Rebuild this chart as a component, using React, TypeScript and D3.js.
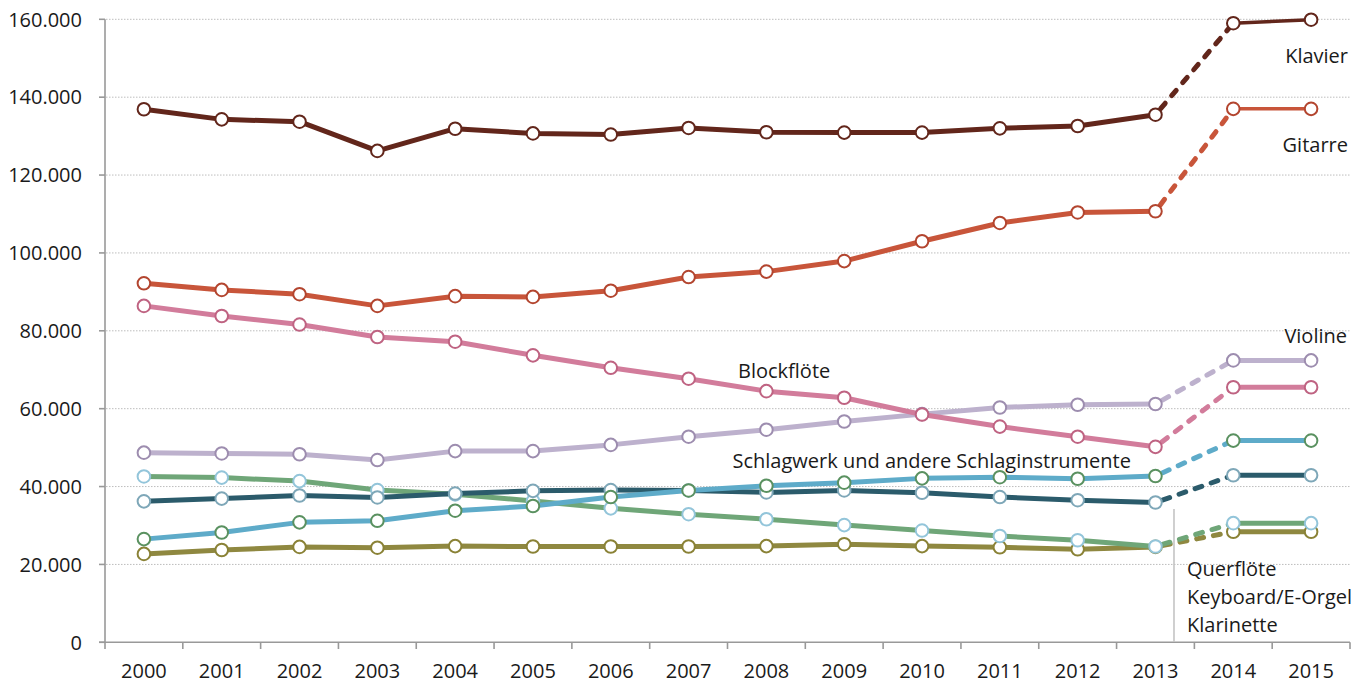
import React from "react";
import * as d3 from "d3";

const years = ["2000","2001","2002","2003","2004","2005","2006","2007","2008","2009","2010","2011","2012","2013","2014","2015"];
const yTicks = [0, 20000, 40000, 60000, 80000, 100000, 120000, 140000, 160000];

const klavier = [136900, 134300, 133700, 126200, 131900, 130700, 130400, 132100, 131000, 130900, 130900, 132000, 132600, 135500, 159000, 159900];
const gitarre = [92200, 90500, 89400, 86400, 88900, 88700, 90300, 93800, 95200, 97900, 103000, 107700, 110400, 110700, 137000, 137000];
const blockfloete = [86400, 83800, 81600, 78400, 77200, 73700, 70500, 67700, 64500, 62800, 58500, 55400, 52800, 50200, 65500, 65500];
const violine = [48700, 48500, 48300, 46800, 49100, 49100, 50700, 52800, 54600, 56700, 58600, 60300, 61000, 61200, 72400, 72400];
const schlagwerk = [26500, 28200, 30800, 31200, 33800, 35000, 37300, 39000, 40200, 41000, 42100, 42400, 42000, 42700, 51800, 51800];
const keyboard = [36200, 36900, 37700, 37200, 38200, 38900, 39100, 39000, 38500, 39000, 38400, 37300, 36500, 35900, 42900, 42900];
const querfloete = [42600, 42300, 41400, 39100, 38000, 36300, 34400, 32900, 31600, 30100, 28700, 27300, 26200, 24600, 30600, 30600];
const klarinette = [22700, 23700, 24500, 24300, 24700, 24600, 24600, 24600, 24700, 25200, 24700, 24400, 23900, 24500, 28400, 28400];

const series = [
  { name: "Violine", values: violine, color: "#bdb1cd", marker: "#9d8daf", endWidth: 5 },
  { name: "Blockflöte", values: blockfloete, color: "#d27c9b", marker: "#bf6382", endWidth: 5 },
  { name: "Klarinette", values: klarinette, color: "#8f8840", marker: "#8a8236", endWidth: 5 },
  { name: "Querflöte", values: querfloete, color: "#6fa678", marker: "#93c5da", endWidth: 5 },
  { name: "Keyboard/E-Orgel", values: keyboard, color: "#2b5b6b", marker: "#7ea7b8", endWidth: 5 },
  { name: "Schlagwerk", values: schlagwerk, color: "#5eabc9", marker: "#5a9160", endWidth: 5 },
  { name: "Gitarre", values: gitarre, color: "#c8553a", marker: "#b3452f", endWidth: 3.5 },
  { name: "Klavier", values: klavier, color: "#62261b", marker: "#62261b", endWidth: 3.5 },
];

const W = 1368;
const H = 683;
const FONT = "'Open Sans', 'Noto Sans', sans-serif";

export default function App() {
  const x = d3.scaleBand<string>().domain(years).range([105, 1350]).padding(0);
  const y = d3.scaleLinear().domain([0, 160000]).range([642.3, 19.3]);
  const cx = (i: number) => (x(years[i]) as number) + x.bandwidth() / 2;
  const line = d3
    .line<number>()
    .x((_, i) => 0)
    .y((d) => y(d));

  const seg = (vals: number[], from: number, to: number) => {
    const pts: [number, number][] = [];
    for (let i = from; i <= to; i++) pts.push([cx(i), y(vals[i])]);
    return d3.line()(pts) as string;
  };
  void line;

  const fmt = (v: number) => (v === 0 ? "0" : d3.format(",")(v).replace(/,/g, "."));
  const edges = years.map((yr) => x(yr) as number).concat([1350]);

  return (
    <svg
      width={W}
      height={H}
      style={{ position: "absolute", left: 0, top: 0, background: "#fff" }}
      fontFamily={FONT}
    >
      {/* gridlines */}
      {yTicks.slice(1).map((t) => (
        <line
          key={"g" + t}
          x1={106}
          x2={1350}
          y1={y(t)}
          y2={y(t)}
          stroke="#bdbdbd"
          strokeWidth={1}
          strokeDasharray="1.5,1.5"
        />
      ))}
      {/* y axis */}
      <line x1={105} x2={105} y1={y(160000)} y2={642.3} stroke="#999" strokeWidth={1.6} />
      {yTicks.map((t) => (
        <g key={"yt" + t}>
          <line x1={99} x2={105} y1={y(t)} y2={y(t)} stroke="#999" strokeWidth={1.6} />
          <text x={82} y={y(t)} dy="0.36em" textAnchor="end" fontSize={20} fill="#1a1a1a">
            {fmt(t)}
          </text>
        </g>
      ))}
      {/* x axis */}
      <line x1={99} x2={1350} y1={642.3} y2={642.3} stroke="#999" strokeWidth={1.6} />
      {edges.map((e, i) => (
        <line key={"xt" + i} x1={e} x2={e} y1={642.3} y2={649} stroke="#999" strokeWidth={1.6} />
      ))}
      {years.map((yr, i) => (
        <text key={"xl" + yr} x={cx(i)} y={678} textAnchor="middle" fontSize={20} fill="#1a1a1a">
          {yr}
        </text>
      ))}
      {/* separator */}
      <line x1={1174} x2={1174} y1={509} y2={642} stroke="#c4c4c4" strokeWidth={1.6} />

      {/* lines */}
      {series.map((s) => (
        <g key={"l" + s.name} fill="none">
          <path d={seg(s.values, 0, 13)} stroke={s.color} strokeWidth={5} strokeLinejoin="round" />
          <path
            d={seg(s.values, 13, 14)}
            stroke={s.color}
            strokeWidth={5}
            strokeDasharray="7,10"
            strokeDashoffset={-8}
            strokeLinecap="round"
          />
          <path d={seg(s.values, 14, 15)} stroke={s.color} strokeWidth={s.endWidth} />
        </g>
      ))}
      {/* markers */}
      {series.map((s) => (
        <g key={"m" + s.name}>
          {s.values.map((v, i) => (
            <circle key={i} cx={cx(i)} cy={y(v)} r={6.3} fill="#fff" stroke={s.marker} strokeWidth={2} />
          ))}
        </g>
      ))}

      {/* labels */}
      <g fontSize={20} fill="#1a1a1a">
        <text x={1348} y={62.5} textAnchor="end">Klavier</text>
        <text x={1348} y={151.5} textAnchor="end">Gitarre</text>
        <text x={1347} y={343} textAnchor="end">Violine</text>
        <text x={738} y={377.5}>Blockflöte</text>
        <text x={732.5} y={468}>Schlagwerk und andere Schlaginstrumente</text>
        <text x={1187} y={576}>Querflöte</text>
        <text x={1187} y={604}>Keyboard/E-Orgel</text>
        <text x={1187} y={632}>Klarinette</text>
      </g>
    </svg>
  );
}
